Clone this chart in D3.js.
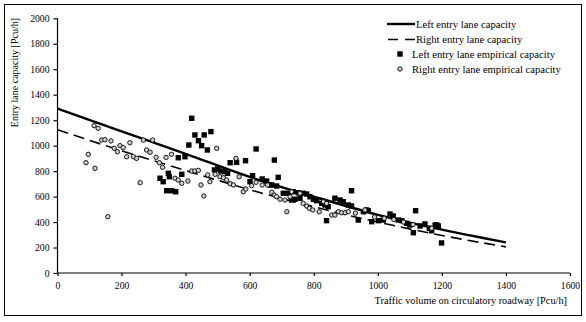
<!DOCTYPE html>
<html><head><meta charset="utf-8">
<script src="https://cdn.jsdelivr.net/npm/d3@7"></script>
<style>body{margin:0;background:#fff}svg{display:block}text{font-family:"Liberation Serif","Times New Roman",serif;fill:#000}</style>
</head><body><svg id="c" width="586" height="322"></svg>
<script>
const xTicks = [0,200,400,600,800,1000,1200,1400,1600];
const yTicks = [0,200,400,600,800,1000,1200,1400,1600,1800,2000];
const capQc = [0,200,400,600,800,1000,1200,1400];
const leftCap = [1290,1112,936,754,600,457,340,240];
const rightCap = [1125,960,805,654,520,400,295,205];
const leftEmpQc = [377,320,330,346,349,341,357,369,388,398,419,429,458,440,479,450,410,468,620,539,559,587,677,490,500,510,521,531,609,601,639,653,669,689,918,663,684,705,721,736,752,767,778,731,741,757,788,799,809,825,835,845,866,882,892,908,918,840,939,955,965,970,981,1002,1017,1038,1048,1064,1075,1090,1100,1118,1111,1132,1147,1161,1168,1184,1179,1189,1199];
const leftEmpCap = [905,744,717,783,756,646,646,638,775,913,1215,1084,1084,1039,1110,1000,1005,966,974,866,869,882,887,809,817,801,796,783,764,717,738,722,691,751,646,691,683,626,626,638,630,626,620,573,579,587,599,579,568,547,534,521,587,573,560,534,526,411,416,481,495,489,403,411,416,463,448,416,411,390,377,489,316,369,385,351,332,377,377,369,236];
const rightEmpQc = [114,127,138,148,167,177,187,195,205,226,216,237,247,268,297,278,289,308,318,328,339,356,367,377,96,89,117,258,157,497,557,388,407,419,429,440,448,469,476,492,507,518,528,539,549,567,580,588,457,606,620,639,656,669,677,684,695,710,726,731,716,757,767,778,786,797,817,830,840,856,866,877,887,898,908,930,960,990,1020,1050,1080,1110,1168];
const rightEmpCap = [1157,1136,1044,1047,1037,979,952,1000,984,1023,913,913,900,1044,1044,966,948,908,866,830,908,932,744,730,932,866,822,709,442,979,900,704,722,801,801,806,691,770,717,775,756,748,730,701,691,756,638,660,605,686,712,691,691,634,612,599,579,573,599,638,481,626,547,526,508,495,481,560,547,455,455,481,473,473,481,470,495,440,430,420,400,380,351];
const legendLabels = ["Left entry lane capacity","Right entry lane capacity","Left entry lane empirical capacity","Right entry lane empirical capacity"];
const xTitle = "Traffic volume on circulatory roadway [Pcu/h]";
const yTitle = "Entry lane capacity [Pcu/h]";

const svg = d3.select("#c");
svg.append("rect").attr("x",4.5).attr("y",4.5).attr("width",577).attr("height",311).attr("fill","#fff").attr("stroke","#000").attr("stroke-width",1);

const L=57.5, R=570, T=18.3, B=273;
const x = d3.scaleLinear().domain([0,1600]).range([L,R]);
const y = d3.scaleLinear().domain([0,2000]).range([B,T]);

const xa = svg.append("g").attr("transform",`translate(0,${B})`)
  .call(d3.axisBottom(x).tickValues(xTicks).tickSize(3).tickPadding(6).tickFormat(d3.format("d")));
const ya = svg.append("g").attr("transform",`translate(${L},0)`)
  .call(d3.axisLeft(y).tickValues(yTicks).tickSize(4).tickPadding(4).tickFormat(d3.format("d")));
[xa,ya].forEach(a=>{a.selectAll("path,line").attr("stroke","#000").attr("stroke-width",1.2);
  a.selectAll("text").style("font-family","Liberation Serif").style("font-size","9.7px").attr("fill","#000");});
xa.select(".domain").attr("d",`M${L},0H${R}`);
ya.select(".domain").attr("d",`M0,${B}V${T}`);

const line = d3.line().x((d,i)=>x(capQc[i])).y(d=>y(d)).curve(d3.curveMonotoneX);
svg.append("path").attr("d",line(leftCap)).attr("fill","none").attr("stroke","#000").attr("stroke-width",2.4);
svg.append("path").attr("d",line(rightCap)).attr("fill","none").attr("stroke","#000").attr("stroke-width",1.6).attr("stroke-dasharray","11,6");

svg.append("g").selectAll("rect").data(leftEmpQc).join("rect")
  .attr("x",(d,i)=>x(d)-2.7).attr("y",(d,i)=>y(leftEmpCap[i])-2.7).attr("width",5.4).attr("height",5.4).attr("fill","#000");
svg.append("g").selectAll("circle").data(rightEmpQc).join("circle")
  .attr("cx",d=>x(d)).attr("cy",(d,i)=>y(rightEmpCap[i])).attr("r",2.2).attr("fill","#d0d0d0").attr("stroke","#000").attr("stroke-width",0.9);

// legend
const lg = svg.append("g");
lg.append("line").attr("x1",387).attr("x2",415).attr("y1",24).attr("y2",24).attr("stroke","#000").attr("stroke-width",2.4);
lg.append("line").attr("x1",388).attr("x2",415).attr("y1",39.5).attr("y2",39.5).attr("stroke","#000").attr("stroke-width",1.6).attr("stroke-dasharray","10,7");
lg.append("rect").attr("x",397.3).attr("y",51.3).attr("width",5.4).attr("height",5.4).attr("fill","#000");
lg.append("circle").attr("cx",400).attr("cy",69).attr("r",2.2).attr("fill","#d0d0d0").attr("stroke","#000").attr("stroke-width",0.9);
const lx=[416,416,412,412], ly=[28,43,58,73];
legendLabels.forEach((t,i)=>lg.append("text").attr("x",lx[i]).attr("y",ly[i]).style("font-size","10.6px").text(t));

svg.append("text").attr("x",567).attr("y",304).attr("text-anchor","end").style("font-size","10.3px").text(xTitle);
svg.append("text").attr("transform","translate(18,18) rotate(-90)").attr("text-anchor","end").style("font-size","10px").text(yTitle);
</script></body></html>
